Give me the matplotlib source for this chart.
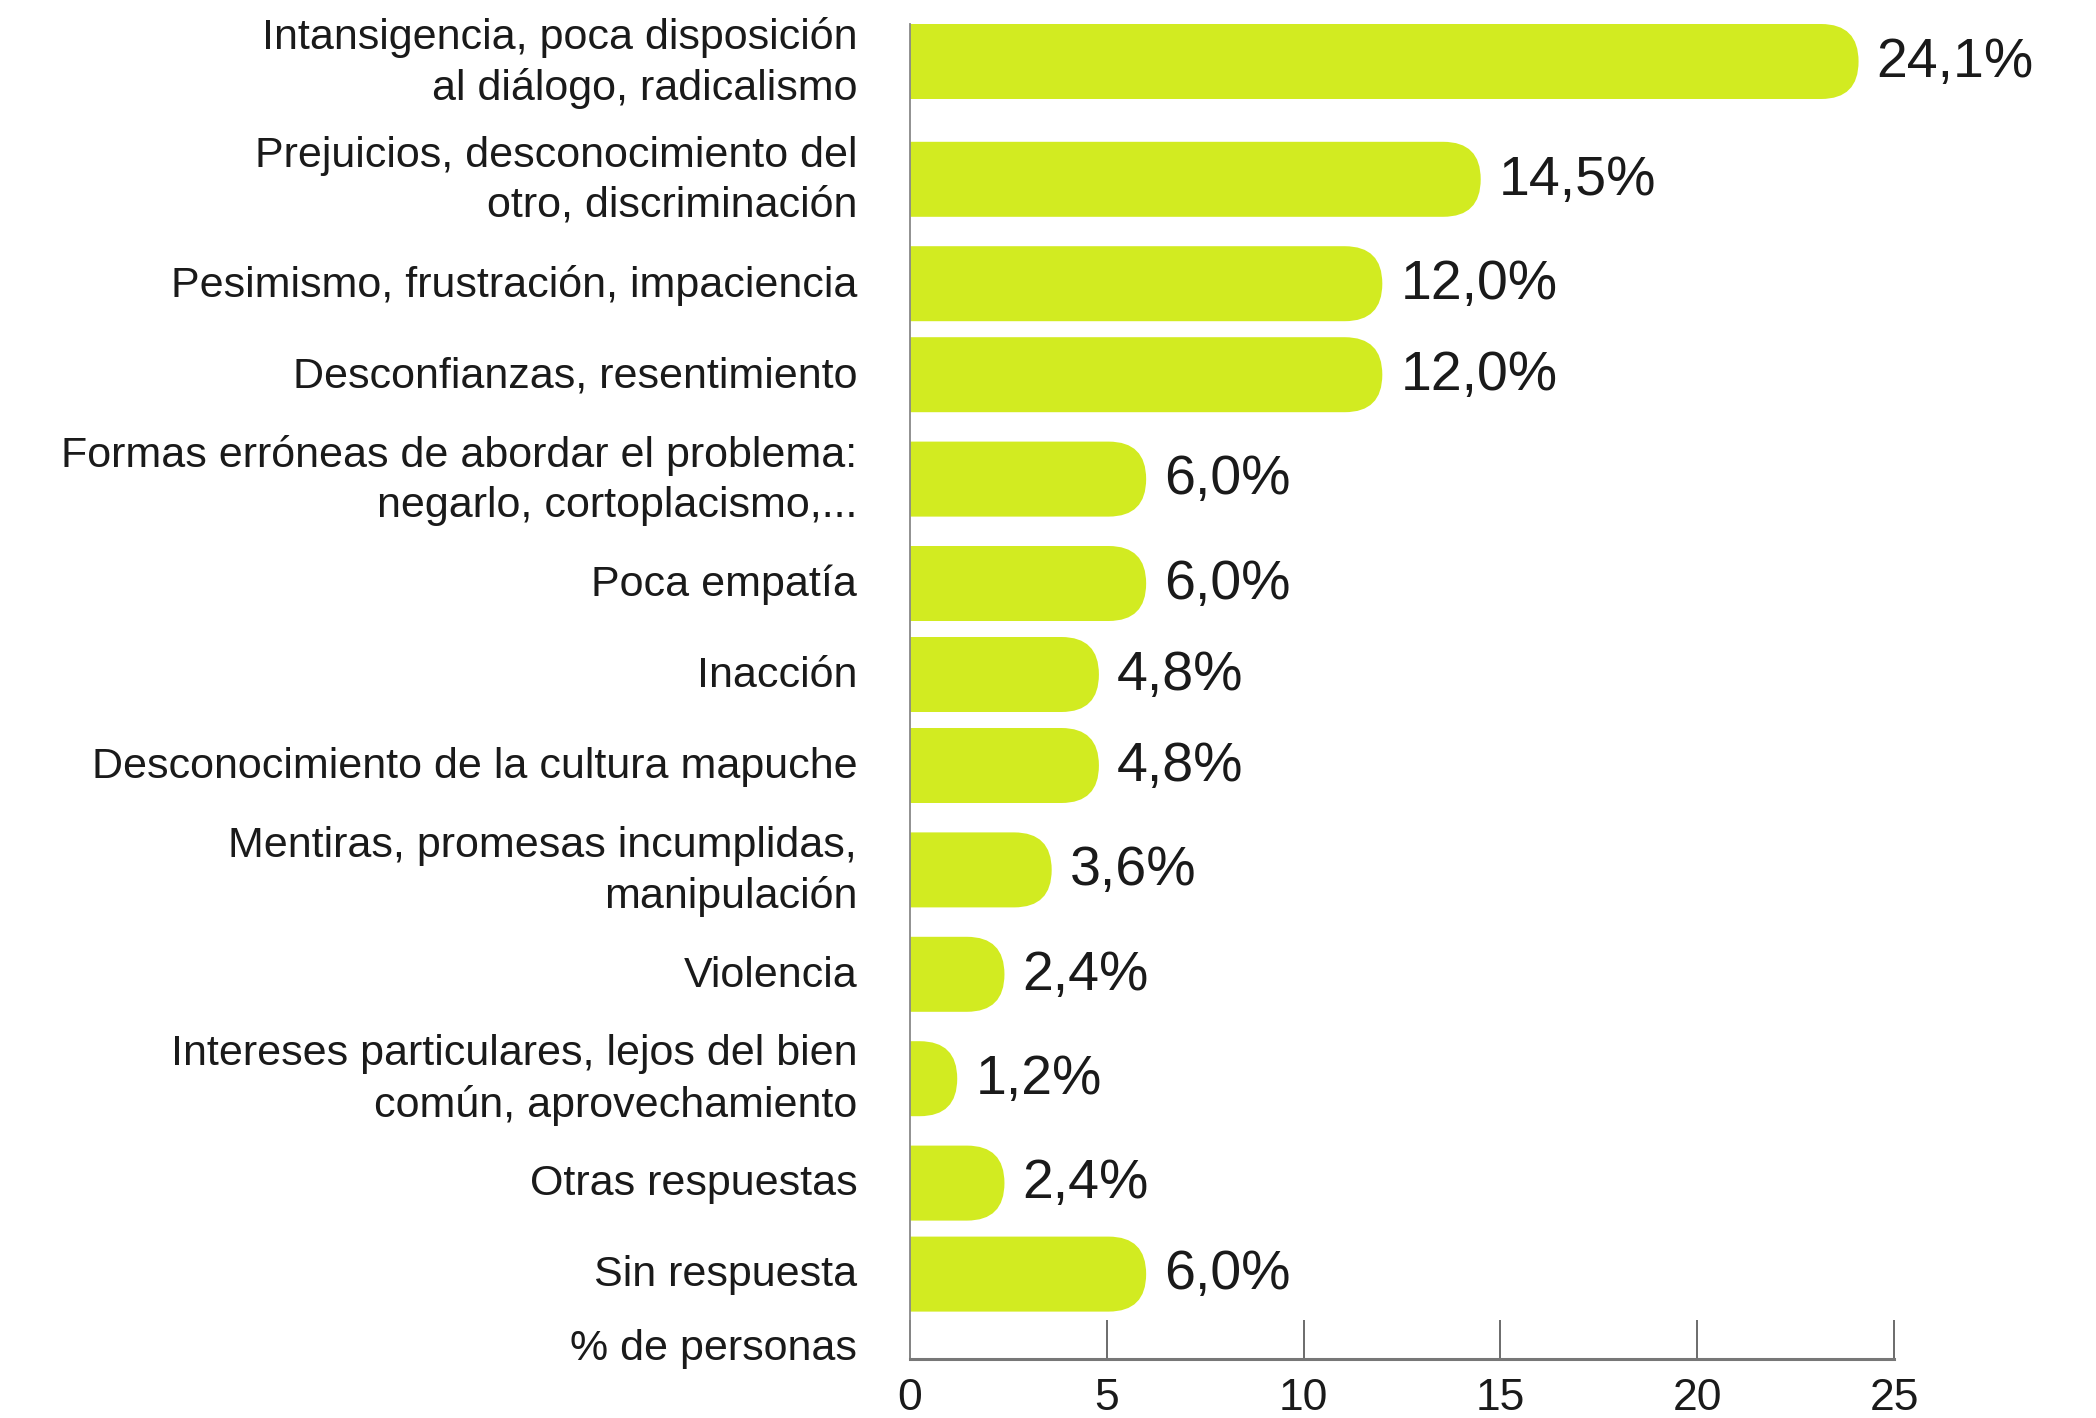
import matplotlib
matplotlib.use("Agg")
import matplotlib.pyplot as plt
from matplotlib.patches import FancyBboxPatch
import numpy as np

plt.rcParams['font.family'] = ['Liberation Sans', 'DejaVu Sans']

categorias = [
    "Intansigencia, poca disposición\nal diálogo, radicalismo",
    "Prejuicios, desconocimiento del\notro, discriminación",
    "Pesimismo, frustración, impaciencia",
    "Desconfianzas, resentimiento",
    "Formas erróneas de abordar el problema:\nnegarlo, cortoplacismo,...",
    "Poca empatía",
    "Inacción",
    "Desconocimiento de la cultura mapuche",
    "Mentiras, promesas incumplidas,\nmanipulación",
    "Violencia",
    "Intereses particulares, lejos del bien\ncomún, aprovechamiento",
    "Otras respuestas",
    "Sin respuesta",
]
porcentajes = [24.1, 14.5, 12.0, 12.0, 6.0, 6.0, 4.8, 4.8, 3.6, 2.4, 1.2, 2.4, 6.0]
ticks_x = [0, 5, 10, 15, 20, 25]

verde = "#d2eb21"
texto = "#1a1a1a"

# --- layout (en pixeles de la figura) ---
W, H = 2096, 1418
x_eje, x_25 = 910, 1894
y_arriba, y_base = 24, 1359
alto_barra = 75
sep_base, sep_extra = 91, 13.4

lineas = np.array([c.count("\n") + 1 for c in categorias])
saltos = sep_base + sep_extra * ((lineas[:-1] - 1) + (lineas[1:] - 1))
centros = y_arriba + alto_barra / 2 + np.concatenate([[0], np.cumsum(saltos)])

fig = plt.figure(figsize=(W / 100, H / 100), dpi=100)
ax = fig.add_axes([x_eje / W, 1 - y_base / H, (x_25 - x_eje) / W, (y_base - y_arriba) / H])
ax.set_xlim(0, 25)
ax.set_ylim(y_base, y_arriba)

px_por_unidad = (x_25 - x_eje) / 25
aspecto = px_por_unidad  # 1 unidad en y = 1 px
r = alto_barra / 2

for yc, v, cat in zip(centros, porcentajes, categorias):
    caja = FancyBboxPatch((-3, yc - r), v + 3, alto_barra,
                          boxstyle=f"round,pad=0,rounding_size={r / aspecto}",
                          mutation_aspect=aspecto, fc=verde, ec="none", zorder=1)
    ax.add_patch(caja)
    ax.annotate(f"{v:.1f}".replace(".", ",") + "%", (v, yc),
                xytext=(13, -1), textcoords="offset points",
                ha="left", va="center", fontsize=40,
                color=texto, annotation_clip=False)
    # etiqueta de la categoria
    ax.annotate(cat, (0, yc), xytext=(-38, -1), textcoords="offset points",
                ha="right", va="center", ma="right", fontsize=31, linespacing=1.33,
                color=texto, annotation_clip=False)

ax.set_yticks([])

ax.set_xticks(ticks_x)
ax.set_xticklabels([str(t) for t in ticks_x], fontsize=32, color=texto)
ax.tick_params(axis="x", direction="in", length=28, width=1.1, color="#444444", pad=14)

for s in ["top", "right"]:
    ax.spines[s].set_visible(False)
ax.spines["left"].set_color("#888888")
ax.spines["left"].set_linewidth(1.3)
ax.spines["bottom"].set_color("#777777")
ax.spines["bottom"].set_linewidth(2.2)

ax.annotate("% de personas", (0, y_base), xytext=(-38, 7), textcoords="offset points",
            ha="right", va="center", fontsize=31, color=texto,
            annotation_clip=False)

fig.savefig("out.png", dpi=100)
